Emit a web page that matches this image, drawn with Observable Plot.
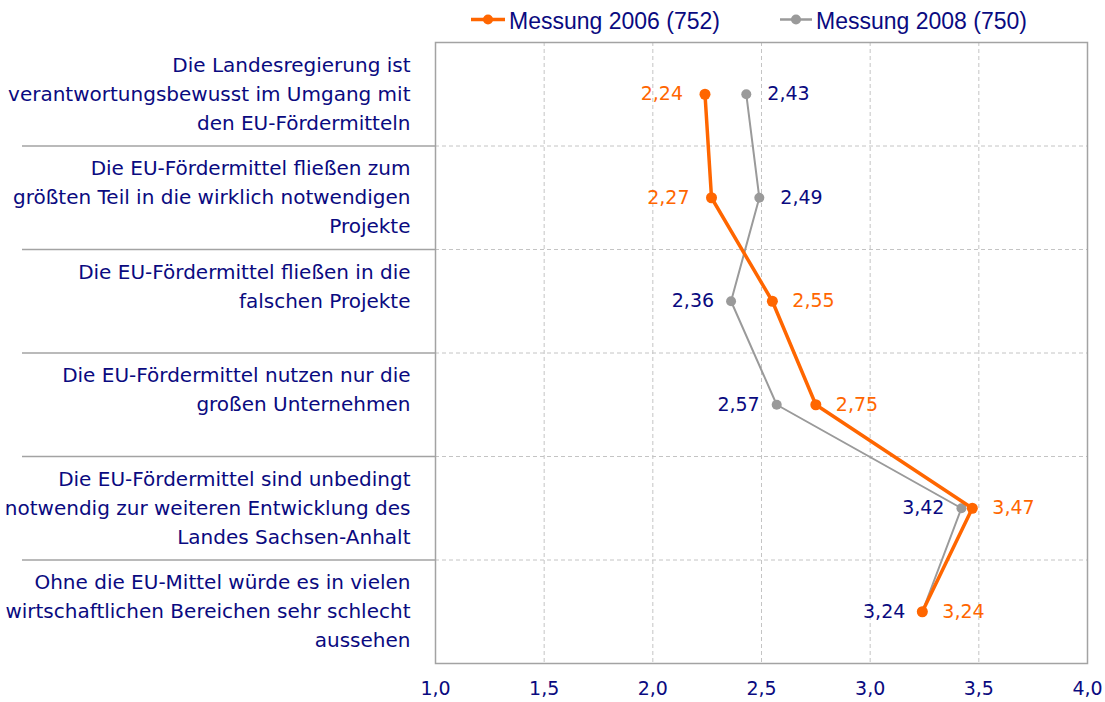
<!DOCTYPE html>
<html><head><meta charset="utf-8">
<script src="https://cdn.jsdelivr.net/npm/d3@7"></script>
<script src="https://cdn.jsdelivr.net/npm/@observablehq/plot@0.6"></script>
<style>
body{margin:0;background:#fff;font-family:"Liberation Sans",Arial,sans-serif;}
#wrap{position:relative;width:1105px;height:702px;}
#legend{position:relative;height:41px;}
.lg{position:absolute;top:1px;height:41px;display:flex;align-items:center;}
.lg span{font-size:23px;color:#0a0a80;margin-left:4px;font-family:"Liberation Sans",Arial,sans-serif;}
</style></head>
<body><div id="wrap"><div id="legend"></div><div id="chart"></div></div>
<script>
const categories = [
  "Die Landesregierung ist\nverantwortungsbewusst im Umgang mit\nden EU-Fördermitteln",
  "Die EU-Fördermittel fließen zum\ngrößten Teil in die wirklich notwendigen\nProjekte",
  "Die EU-Fördermittel fließen in die\nfalschen Projekte\n\u00a0",
  "Die EU-Fördermittel nutzen nur die\ngroßen Unternehmen\n\u00a0",
  "Die EU-Fördermittel sind unbedingt\nnotwendig zur weiteren Entwicklung des\nLandes Sachsen-Anhalt",
  "Ohne die EU-Mittel würde es in vielen\nwirtschaftlichen Bereichen sehr schlecht\naussehen"
];
const seriesNames = ["Messung 2006 (752)", "Messung 2008 (750)"];
const values2006 = [2.24, 2.27, 2.55, 2.75, 3.47, 3.24];
const values2008 = [2.43, 2.49, 2.36, 2.57, 3.42, 3.24];
const xTicks = [1.0, 1.5, 2.0, 2.5, 3.0, 3.5, 4.0];
const colors = ["#FF6600", "#9a9a9a"];
const navy = "#0a0a80";
const wideFont = "DejaVu Sans, Verdana, sans-serif";

const fmt1 = v => v.toFixed(1).replace(".", ",");
const fmt2 = v => v.toFixed(2).replace(".", ",");

const d2006 = categories.map((c, i) => ({i, v: values2006[i], other: values2008[i]}));
const d2008 = categories.map((c, i) => ({i, v: values2008[i], other: values2006[i]}));
const yPos = d => d.i + 0.5;

// legend
const legend = document.getElementById("legend");
const legendLeft = [471, 780];
const swW = [34, 32];
seriesNames.forEach((name, k) => {
  const item = document.createElement("div");
  item.className = "lg";
  item.style.left = legendLeft[k] + "px";
  const w = swW[k];
  item.innerHTML = `<svg width="${w}" height="41"><line x1="0" x2="${w}" y1="18.5" y2="18.5" stroke="${colors[k]}" stroke-width="${k===0?3.5:2.5}"/><circle cx="${w/2}" cy="18.5" r="5" fill="${colors[k]}"/></svg><span>${name}</span>`;
  legend.appendChild(item);
});

const textOpts = {fontSize: 19, fontFamily: wideFont};

const chart = Plot.plot({
  width: 1105,
  height: 661,
  marginTop: 1,
  marginBottom: 39,
  marginLeft: 435,
  marginRight: 18,
  style: {fontFamily: wideFont, background: "#fff"},
  x: {domain: [1, 4], label: null},
  y: {domain: [0, 6], reverse: true, label: null},
  marks: [
    Plot.gridX(xTicks.slice(1, -1), {stroke: "#c4c4c4", strokeOpacity: 1, strokeDasharray: "4,3"}),
    Plot.gridY([1, 2, 3, 4, 5], {stroke: "#c4c4c4", strokeOpacity: 1, strokeDasharray: "4,3"}),
    Plot.frame({stroke: "#a3a3a3", strokeWidth: 1.5}),
    Plot.axisY([1, 2, 3, 4, 5], {tickSize: 413, tickFormat: () => "", stroke: "#a3a3a3", strokeWidth: 1.5, strokeOpacity: 1}),
    Plot.axisY(categories.map((c, i) => i + 0.5), {
      tickSize: 0, tickPadding: 25, fontSize: 20, lineHeight: 1.45, dy: -3,
      tickFormat: d => categories[Math.floor(d)], fill: navy, fontFamily: wideFont
    }),
    Plot.axisX(xTicks, {tickSize: 0, tickPadding: 18, fontSize: 19, tickFormat: fmt1, fill: navy, fontFamily: wideFont}),
    Plot.line(d2008, {x: "v", y: yPos, stroke: colors[1], strokeWidth: 2}),
    Plot.dot(d2008, {x: "v", y: yPos, r: 5, fill: colors[1]}),
    Plot.line(d2006, {x: "v", y: yPos, stroke: colors[0], strokeWidth: 3.5}),
    Plot.dot(d2006, {x: "v", y: yPos, r: 5.5, fill: colors[0]}),
    // value labels 2006 (orange): right when >= other, else left
    Plot.text(d2006.filter(d => d.v >= d.other), {x: "v", y: yPos, text: d => fmt2(d.v), dx: 20, textAnchor: "start", fill: colors[0], ...textOpts}),
    Plot.text(d2006.filter(d => d.v < d.other), {x: "v", y: yPos, text: d => fmt2(d.v), dx: -22, textAnchor: "end", fill: colors[0], ...textOpts}),
    // value labels 2008 (navy): opposite side
    Plot.text(d2008.filter(d => d.v > d.other), {x: "v", y: yPos, text: d => fmt2(d.v), dx: 21, textAnchor: "start", fill: navy, ...textOpts}),
    Plot.text(d2008.filter(d => d.v <= d.other), {x: "v", y: yPos, text: d => fmt2(d.v), dx: -17, textAnchor: "end", fill: navy, ...textOpts})
  ]
});
document.getElementById("chart").appendChild(chart);
</script>
</body></html>
